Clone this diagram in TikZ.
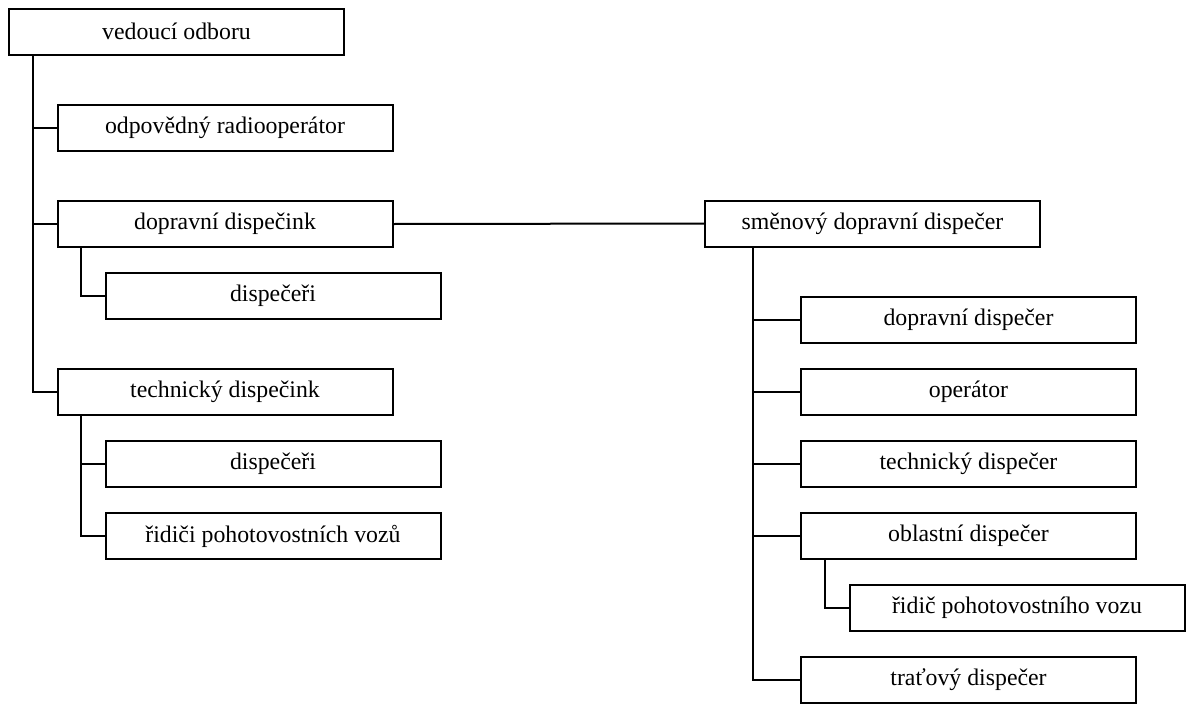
\documentclass[tikz,border=0pt]{standalone}
\usepackage{fontspec}
\setmainfont{Liberation Serif}
\begin{document}
\begin{tikzpicture}[x=1pt,y=-1pt,
  unit/.style={draw,line width=2pt,rectangle,inner sep=0pt,
    minimum width=335pt,minimum height=46pt,
    font=\fontsize{23.8}{28}\selectfont},
  link/.style={line width=2pt}]
\useasboundingbox (0,0) rectangle (1186,704);

% left branch
\node[unit] (vo)  at (176.5,31.5) {vedoucí odboru};
\node[unit] (ro)  at (225,128)   {odpovědný radiooperátor};
\node[unit] (dd)  at (225,224)   {dopravní dispečink};
\node[unit] (dd1) at (273,296)   {dispečeři};
\node[unit] (td)  at (225,392)   {technický dispečink};
\node[unit] (td1) at (273,464)   {dispečeři};
\node[unit] (td2) at (273,536)   {řidiči pohotovostních vozů};

% right branch
\node[unit] (sd)  at (872.5,223.5) {směnový dopravní dispečer};
\node[unit] (dp)  at (968.5,320)   {dopravní dispečer};
\node[unit] (op)  at (968.5,392)   {operátor};
\node[unit] (te)  at (968.5,464)   {technický dispečer};
\node[unit] (ob)  at (968.5,536)   {oblastní dispečer};
\node[unit] (ri)  at (1017,608)    {řidič pohotovostního vozu};
\node[unit] (tr)  at (968.5,680)   {traťový dispečer};

% connectors
\foreach \c in {ro,dd,td}
  \draw[link] (\c.west) -| ([xshift=25]vo.south west);
\foreach \c in {dd1}
  \draw[link] (\c.west) -| ([xshift=24]dd.south west);
\foreach \c in {td1,td2}
  \draw[link] (\c.west) -| ([xshift=24]td.south west);
\draw[link] (dd.east) -- (sd.west);
\foreach \c in {dp,op,te,ob,tr}
  \draw[link] (\c.west) -| ([xshift=49]sd.south west);
\draw[link] (ri.west) -| ([xshift=25]ob.south west);
\end{tikzpicture}
\end{document}
